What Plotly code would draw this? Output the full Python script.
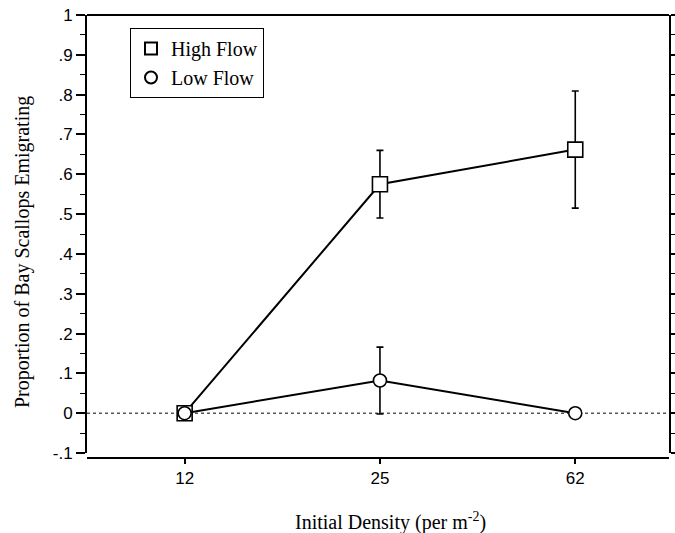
import plotly.graph_objects as go

densities = ["12", "25", "62"]
x_pos = [0, 1, 2]
high_flow = [0.0, 0.575, 0.662]
high_err = [0.0, 0.085, 0.147]
low_flow = [0.0, 0.082, 0.0]
low_err = [0.0, 0.084, 0.0]

y_tickvals = [-0.1, 0, 0.1, 0.2, 0.3, 0.4, 0.5, 0.6, 0.7, 0.8, 0.9, 1.0]
y_ticktext = ["-.1", "0", ".1", ".2", ".3", ".4", ".5", ".6", ".7", ".8", ".9", "1"]

sq = dict(symbol="square", size=15, color="white", line=dict(color="black", width=1.6))
ci = dict(symbol="circle", size=13, color="white", line=dict(color="black", width=1.6))

fig = go.Figure()
fig.add_trace(go.Scatter(
    x=x_pos, y=high_flow, name="High Flow", mode="lines+markers", showlegend=False,
    line=dict(color="black", width=2), marker=sq,
    error_y=dict(type="data", array=high_err, color="black", thickness=1.6, width=3.5),
))
fig.add_trace(go.Scatter(
    x=x_pos, y=low_flow, name="Low Flow", mode="lines+markers", showlegend=False,
    line=dict(color="black", width=2), marker=ci,
    error_y=dict(type="data", array=low_err, color="black", thickness=1.6, width=3.5),
))
# legend entries (marker only)
fig.add_trace(go.Scatter(x=[None], y=[None], name="High Flow", mode="markers",
                         marker=dict(symbol="square-open", size=14, color="black", line=dict(width=1.2))))
fig.add_trace(go.Scatter(x=[None], y=[None], name="Low Flow", mode="markers",
                         marker=dict(symbol="circle-open", size=11, color="black", line=dict(width=1.6))))

fig.add_shape(type="line", xref="paper", x0=0, x1=1, yref="y", y0=0, y1=0,
              line=dict(color="black", width=1, dash="dot"), layer="below")
# top border
fig.add_shape(type="line", xref="paper", x0=0, x1=1, yref="paper", y0=1, y1=1,
              line=dict(color="black", width=2))

fig.add_annotation(text="Proportion of Bay Scallops Emigrating", textangle=-90,
                   xref="paper", yref="paper", x=(22 - 87) / 582, y=(458 - 252) / 443,
                   showarrow=False, xanchor="center", yanchor="middle",
                   font=dict(family="Liberation Serif", size=20, color="black"))
fig.add_annotation(text="Initial Density (per m<sup>-2</sup>)",
                   xref="paper", yref="paper", x=(390 - 87) / 582, y=(458 - 521) / 443,
                   showarrow=False, xanchor="center", yanchor="middle",
                   font=dict(family="Liberation Serif", size=20, color="black"))

fig.update_layout(
    width=675, height=533,
    margin=dict(l=87, r=6, t=15, b=75),
    plot_bgcolor="white", paper_bgcolor="white",
    font=dict(family="Liberation Sans", size=17, color="black"),
    showlegend=True,
    legend=dict(x=(130 - 87) / 582, y=(458 - 28) / 443, xanchor="left", yanchor="top",
                bgcolor="white", bordercolor="black", borderwidth=1,
                font=dict(family="Liberation Serif", size=20, color="black"),
                itemsizing="constant", tracegroupgap=0, itemwidth=30),
    xaxis=dict(range=[-0.5, 2.48], tickvals=x_pos, ticktext=densities, automargin=False,
               showgrid=False, zeroline=False, showline=True, linecolor="black", linewidth=2,
               ticks="outside", ticklen=5, tickwidth=1.5, tickcolor="black",
               anchor="free", position=0),
    yaxis=dict(range=[-0.1, 1.0], domain=[5 / 443, 1], tickvals=y_tickvals, ticktext=y_ticktext,
               automargin=False,
               showgrid=False, zeroline=False, showline=True, linecolor="black", linewidth=2,
               mirror="ticks", ticks="outside", ticklen=9, tickwidth=1.5, tickcolor="black",
               minor=dict(dtick=0.05, tick0=0.05, ticks="outside", ticklen=5, tickwidth=1.2, tickcolor="black")),
)

fig.write_html("out.html", config={"displayModeBar": False},
               post_script="document.body.style.margin='0px';document.body.style.overflow='hidden';")
